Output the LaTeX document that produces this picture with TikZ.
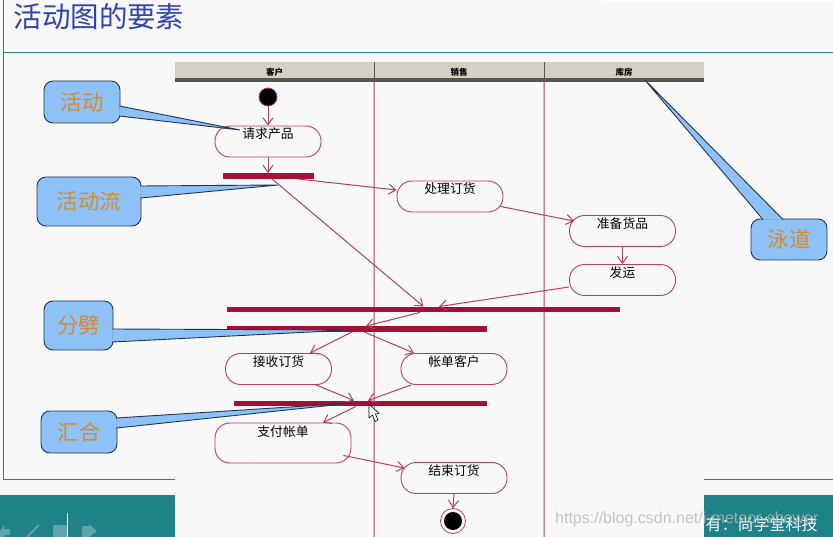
\documentclass[tikz,border=0pt]{standalone}
\usepackage{fontspec}
\setmainfont{Noto Sans CJK SC}
\newfontfamily\wmfont{Liberation Sans}
\usetikzlibrary{arrows.meta}

\definecolor{pagegray}{HTML}{F8F8F9}
\definecolor{frameteal}{HTML}{1F8289}
\definecolor{flowred}{HTML}{B23F5E}
\definecolor{barred}{HTML}{A80F35}
\definecolor{headgray}{HTML}{D4D0C8}
\definecolor{headdark}{HTML}{5A5650}
\definecolor{tipblue}{HTML}{8EC1F5}
\definecolor{tipline}{HTML}{22344E}
\definecolor{tiptext}{HTML}{D98A2B}
\definecolor{titleblue}{HTML}{2F45B0}
\definecolor{iconteal}{HTML}{5FA3A8}

\tikzset{
  actbox/.style={draw=flowred, line width=0.9pt, rounded corners=15pt, font=\fontsize{12.8}{12.8}\selectfont,
    text height=10pt, text depth=15pt, inner xsep=2pt, inner ysep=3pt, minimum width=106pt},
  syncbar/.style={fill=barred, inner sep=0pt, minimum height=5.5pt},
  headcell/.style={fill=headgray, inner sep=0pt, minimum height=20pt, font=\bfseries\fontsize{8.5}{8.5}\selectfont},
  flow/.style={draw=flowred, line width=1pt, -{Straight Barb[length=7pt,width=10pt]}},
  lane/.style={draw=flowred, line width=1pt},
  tipbox/.style={draw=tipline, line width=0.9pt, fill=tipblue, rounded corners=9pt, inner sep=0pt,
    text=tiptext, font=\fontsize{21.5}{21.5}\selectfont},
  pointer/.style={draw=tipline, line width=0.9pt, fill=tipblue, line join=miter}
}

\begin{document}
\begin{tikzpicture}[x=1pt,y=-1pt]
  \useasboundingbox (0,0) rectangle (833,537);

  % Slide background
  \fill[pagegray] (0,0) rectangle (833,537);
  \fill[white] (602,0) rectangle (833,3);
  \draw[frameteal, line width=0.8pt] (3,0) -- (3,479) -- (175,479);
  \draw[frameteal, line width=0.8pt] (704,479) -- (833,479);
  \draw[frameteal, line width=1pt] (3,53) -- (833,53);
  \fill[frameteal] (0,495) rectangle (175,537);
  \fill[frameteal] (704,495) rectangle (833,537);
  \node[text=titleblue, font=\fontsize{28.5}{28.5}\selectfont] (title) at (99,17) {活动图的要素};

  % Nav icons
  \fill[iconteal] (0,531) -- (4,525) -- (4,529) -- (10,529) -- (10,535) -- (4,535) -- (4,537) -- (0,537) -- cycle;
  \draw[iconteal, line width=2pt] (27,537) -- (39,525);
  \fill[iconteal] (53,525) rectangle (67,537);
  \draw[white!80!iconteal, line width=0.8pt] (67,513) -- (67,537);
  \fill[iconteal] (82,526) -- (89,526) -- (89,524) -- (97,531) -- (89,537) -- (82,537) -- cycle;

  % Swimlane heads
  \node[headcell, minimum width=199pt] (kehu) at (274.5,72) {客户};
  \node[headcell, minimum width=170pt] (xiaoshou) at (459,72) {销售};
  \node[headcell, minimum width=160pt] (kufang) at (624,72) {库房};
  \fill[headdark] (kehu.south west) ++(0,-4) rectangle (kufang.south east);
  \draw[headdark, line width=1pt] (kehu.north east) -- (kehu.south east);
  \draw[headdark, line width=1pt] (xiaoshou.north east) -- (xiaoshou.south east);

  % Lanes
  \coordinate (laneoneend) at (374,537);
  \coordinate (lanetwoend) at (544,537);
  \draw[lane] (kehu.south east) -- (laneoneend);
  \draw[lane] (xiaoshou.south east) -- (lanetwoend);

  % Activities
  \node[circle, fill=black, draw=flowred, line width=0.8pt, minimum size=18pt, inner sep=0pt] (startdot) at (268,97) {};
  \node[actbox] (qingqiu) at (268,141.5) {请求产品};
  \node[syncbar, minimum width=91pt] (barone) at (268,176) {};
  \node[actbox] (chuli) at (450,196.5) {处理订货};
  \node[actbox] (zhunbei) at (622.5,231) {准备货品};
  \node[actbox] (fayun) at (622.5,280) {发运};
  \node[syncbar, minimum width=393pt] (bartwo) at (423.5,309.5) {};
  \node[syncbar, minimum width=260pt] (barthree) at (357,329) {};
  \node[actbox] (jieshou) at (278.5,369) {接收订货};
  \node[actbox] (zhangdan) at (454,369) {帐单客户};
  \node[syncbar, minimum width=253pt] (barfour) at (360.5,403.5) {};
  \node[actbox, minimum width=136pt, text depth=24pt] (zhifu) at (283,443) {支付帐单};
  \node[actbox] (jieshu) at (454,478) {结束订货};
  \node[circle, fill=pagegray, draw=flowred, line width=0.8pt, minimum size=25pt, inner sep=0pt] (endring) at (453,521) {};
  \node[circle, fill=black, minimum size=18pt, inner sep=0pt] (enddot) at (453,521) {};

  % Flows
  \draw[flow] (startdot) -- (qingqiu.north);
  \draw[flow] (qingqiu.south) -- (barone.north);
  \draw[flow] ([xshift=30]barone.south) -- ([yshift=6.5]chuli.west);
  \draw[flow] ([xshift=4]barone.south) -- (bartwo.north);
  \draw[flow] ([xshift=-3,yshift=6]chuli.south east) -- ([xshift=5,yshift=-6]zhunbei.north west);
  \draw[flow] (zhunbei.south) -- (fayun.north);
  \draw[flow] ([yshift=-7]fayun.west) -- ([xshift=15.5]bartwo.north);
  \draw[flow] ([xshift=-3.5]bartwo.south) -- ([xshift=9]barthree.north);
  \draw[flow] ([xshift=-5]barthree.south) -- ([xshift=31.5]jieshou.north);
  \draw[flow] ([xshift=7]barthree.south) -- ([xshift=-40]zhangdan.north);
  \draw[flow] ([xshift=37.5]jieshou.south) -- ([xshift=-6.5]barfour.north);
  \draw[flow] ([xshift=-43]zhangdan.south) -- ([xshift=7.5]barfour.north);
  \draw[flow] ([xshift=-4.5]barfour.south) -- ([xshift=40]zhifu.north);
  \draw[flow] ([xshift=-8,yshift=8]zhifu.south east) -- ([xshift=4,yshift=-6]jieshu.north west);
  \draw[flow] (jieshu.south) -- (endring.north);

  % Callouts
  \node[tipbox, minimum width=76pt, minimum height=42pt] (huodong) at (82,102) {活动};
  \coordinate (huodongtip) at (240,130);
  \draw[pointer] ([xshift=-1,yshift=-4]huodong.east) -- (huodongtip) -- ([xshift=-1,yshift=-14]huodong.east);

  \node[tipbox, minimum width=104pt, minimum height=49pt] (huodongliu) at (89,201.5) {活动流};
  \coordinate (liutip) at (278,185);
  \draw[pointer] ([xshift=-1,yshift=15.5]huodongliu.east) -- (liutip) -- ([xshift=-1,yshift=3.5]huodongliu.east);

  \node[tipbox, minimum width=69pt, minimum height=49pt] (fenpi) at (78.5,325.5) {分劈};
  \coordinate (fenpitip) at (350,330);
  \draw[pointer] ([xshift=-1,yshift=-3.5]fenpi.east) -- (fenpitip) -- ([xshift=-1,yshift=-16.5]fenpi.east);

  \node[tipbox, minimum width=76pt, minimum height=42pt] (huihe) at (79,432) {汇合};
  \coordinate (huihetip) at (353,403);
  \draw[pointer] ([xshift=-1,yshift=14]huihe.east) -- (huihetip) -- ([xshift=-1,yshift=4]huihe.east);

  \node[tipbox, minimum width=76pt, minimum height=41pt] (yongdao) at (789,239.5) {泳道};
  \coordinate (yongdaotip) at (645,80);
  \draw[pointer] ([xshift=-26,yshift=-1]yongdao.north) -- (yongdaotip) -- ([xshift=-6,yshift=-1]yongdao.north);

  % Mouse cursor
  \draw[black, fill=white, line width=0.6pt, line join=round]
    (369,404) -- (369,418) -- (372.5,415) -- (375,421.5) -- (378,420) -- (375.5,414) -- (379,413.5) -- cycle;

  % Footer texts
  \node[anchor=west, text=white, font=\fontsize{16}{16}\selectfont] (owner) at (702,524) {有：尚学堂科技};
  \node[anchor=west, inner sep=0pt, text=black!28, opacity=0.8, font=\wmfont\fontsize{16}{16}\selectfont] (watermark) at (555,519) {https://blog.csdn.net/i-meteor-shower};
\end{tikzpicture}
\end{document}
